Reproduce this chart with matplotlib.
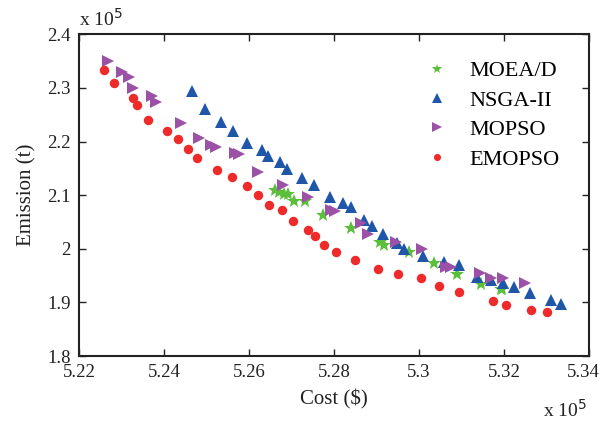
import matplotlib
matplotlib.use('Agg')
import matplotlib.pyplot as plt
from matplotlib.transforms import ScaledTranslation

plt.rcParams['font.family'] = ['Liberation Serif', 'DejaVu Serif']

# Pareto fronts (cost in 1e5 $, emission in 1e5 t)
moead_cost = [5.2661, 5.2671, 5.2683, 5.2691, 5.2706, 5.2732, 5.2773, 5.2841,
              5.2908, 5.2918, 5.2977, 5.3036, 5.3089, 5.3146, 5.3192, 5.3196]
moead_emis = [2.1094, 2.1062, 2.1013, 2.1013, 2.0894, 2.0888, 2.0626, 2.0387,
              2.0127, 2.0065, 1.9940, 1.9738, 1.9536, 1.9349, 1.9256, 1.9256]

nsga_cost = [5.2466, 5.2496, 5.2535, 5.2562, 5.2595, 5.2630, 5.2645, 5.2672,
             5.2689, 5.2724, 5.2752, 5.2790, 5.2821, 5.2841, 5.2871, 5.2890,
             5.2915, 5.2948, 5.2965, 5.3010, 5.3059, 5.3095, 5.3137, 5.3168,
             5.3198, 5.3224, 5.3262, 5.3311, 5.3334]
nsga_emis = [2.2935, 2.2607, 2.2364, 2.2202, 2.1981, 2.1850, 2.1729, 2.1622,
             2.1486, 2.1323, 2.1183, 2.0963, 2.0856, 2.0779, 2.0542, 2.0421,
             2.0284, 2.0116, 2.0000, 1.9865, 1.9763, 1.9705, 1.9477, 1.9411,
             1.9361, 1.9286, 1.9174, 1.9047, 1.8966]

mopso_cost = [5.2269, 5.2300, 5.2318, 5.2328, 5.2371, 5.2380, 5.2441, 5.2482,
              5.2510, 5.2522, 5.2567, 5.2577, 5.2622, 5.2679, 5.2738, 5.2793,
              5.2802, 5.2863, 5.2881, 5.2946, 5.3006, 5.3064, 5.3076, 5.3144,
              5.3168, 5.3197, 5.3248]
mopso_emis = [2.3510, 2.3293, 2.3211, 2.3000, 2.2856, 2.2733, 2.2355, 2.2060,
              2.1944, 2.1892, 2.1791, 2.1761, 2.1430, 2.1187, 2.0968, 2.0733,
              2.0707, 2.0477, 2.0271, 2.0131, 2.0000, 1.9667, 1.9667, 1.9551,
              1.9449, 1.9454, 1.9368]

emopso_cost = [5.2260, 5.2283, 5.2328, 5.2336, 5.2363, 5.2408, 5.2432, 5.2456,
               5.2477, 5.2524, 5.2560, 5.2596, 5.2622, 5.2647, 5.2677, 5.2704,
               5.2739, 5.2756, 5.2777, 5.2805, 5.2849, 5.2904, 5.2950, 5.3004,
               5.3046, 5.3094, 5.3174, 5.3204, 5.3264, 5.3302]
emopso_emis = [2.3336, 2.3099, 2.2819, 2.2682, 2.2407, 2.2191, 2.2050, 2.1856,
               2.1695, 2.1467, 2.1336, 2.1172, 2.1000, 2.0813, 2.0733, 2.0514,
               2.0346, 2.0239, 2.0079, 1.9935, 1.9798, 1.9630, 1.9523, 1.9449,
               1.9305, 1.9196, 1.9034, 1.8944, 1.8865, 1.8819]

fig = plt.figure(figsize=(6.03, 4.29), dpi=100)
ax = fig.add_axes([0.131, 0.170, 0.846, 0.750])

ax.plot(moead_cost, moead_emis, '*', color='#5bbf3c', ms=10, mew=0, label='MOEA/D')
ax.plot(nsga_cost, nsga_emis, '^', color='#1f56a8', ms=9, mew=0, label='NSGA-II')
ax.plot(mopso_cost, mopso_emis, '>', color='#9b52a6', ms=9, mew=0, label='MOPSO')
ax.plot(emopso_cost, emopso_emis, 'o', color='#ee2a2a', ms=6.8, mew=0, label='EMOPSO')

ax.set_xlim(5.22, 5.34)
ax.set_ylim(1.8, 2.4)
ax.set_xticks([5.22, 5.24, 5.26, 5.28, 5.3, 5.32, 5.34])
ax.set_xticklabels(['5.22', '5.24', '5.26', '5.28', '5.3', '5.32', '5.34'])
ax.set_yticks([1.8, 1.9, 2.0, 2.1, 2.2, 2.3, 2.4])
ax.set_yticklabels(['1.8', '1.9', '2', '2.1', '2.2', '2.3', '2.4'])
ax.tick_params(direction='in', length=5, width=1, top=True, right=True,
               labelsize=13.5, colors='#222222', pad=6)
for s in ax.spines.values():
    s.set_linewidth(1.5)
    s.set_color('#222222')

# keep the last cost label inside the figure
last = ax.get_xticklabels()[-1]
last.set_transform(last.get_transform() + ScaledTranslation(-6 / 100, 0, fig.dpi_scale_trans))

ax.set_xlabel('Cost ($)', fontsize=15, color='#222222', labelpad=6)
ax.set_ylabel('Emission (t)', fontsize=15, color='#222222', labelpad=8)

ax.text(0.0, 1.015, r'x 10$^{5}$', transform=ax.transAxes, fontsize=14,
        color='#222222', ha='left', va='bottom')
ax.text(0.995, -0.168, r'x 10$^{5}$', transform=ax.transAxes, fontsize=14,
        color='#222222', ha='right', va='center')

ax.legend(loc='upper left', bbox_to_anchor=(0.63, 0.98), frameon=False,
          fontsize=16, markerscale=0.75, handletextpad=0.7, labelspacing=0.4,
          handlelength=1.5)

fig.savefig('out.png', dpi=100)
